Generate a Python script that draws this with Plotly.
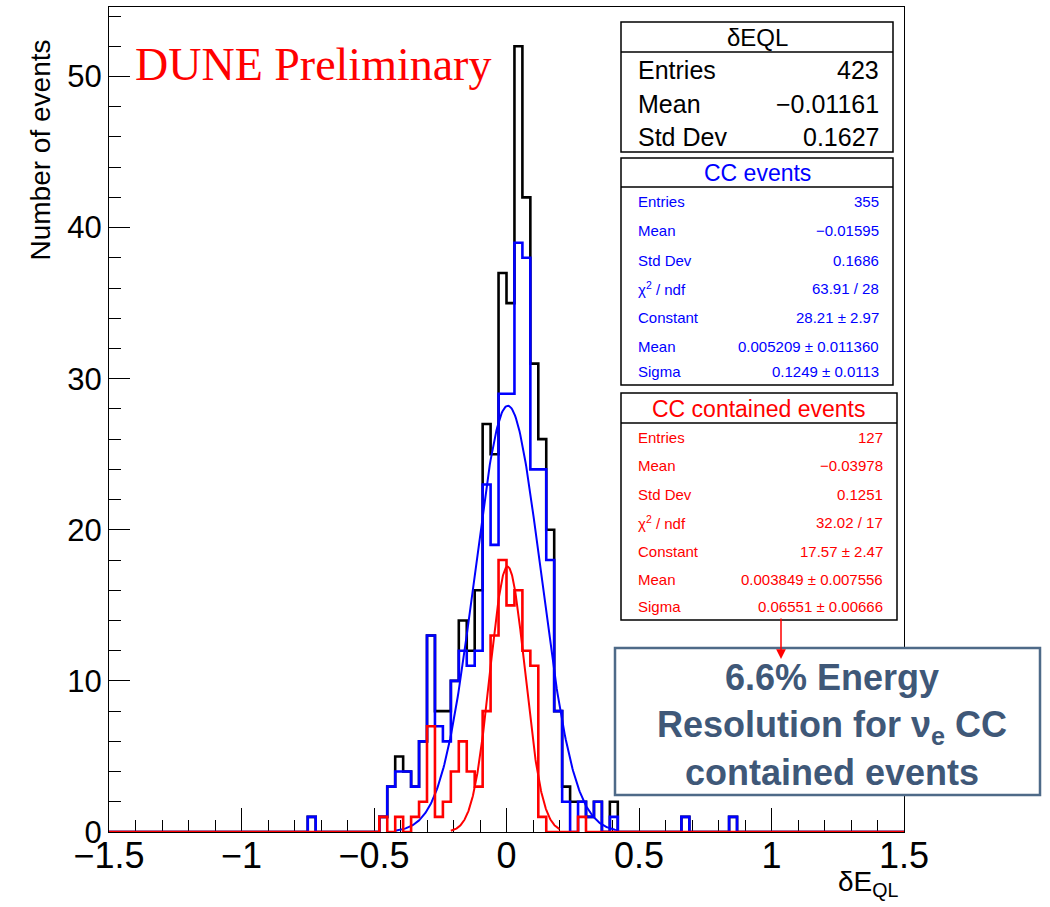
import numpy as np
import plotly.graph_objects as go

# ---- histogram binning: 100 bins of width 0.03 on [-1.5, 1.5]
X_MIN, X_MAX, N_BINS = -1.5, 1.5, 100
Y_MAX = 54.6

# ---- bin contents (lower bin edge -> entries), only non-empty bins listed
all_lo = [-0.75, -0.48, -0.45, -0.42, -0.39, -0.36, -0.33, -0.30, -0.27, -0.24,
          -0.21, -0.18, -0.15, -0.12, -0.09, -0.06, -0.03, 0.00, 0.03, 0.06,
          0.09, 0.12, 0.15, 0.18, 0.21, 0.24, 0.27, 0.30, 0.33, 0.39, 0.66, 0.84]
all_n = [1, 1, 3, 5, 4, 3, 6, 13, 8, 8,
         10, 14, 12, 16, 27, 25, 37, 35, 52, 42,
         31, 26, 20, 8, 3, 2, 2, 1, 2, 2, 1, 1]

cc_lo = [-0.75, -0.48, -0.45, -0.42, -0.39, -0.36, -0.33, -0.30, -0.27, -0.24,
         -0.21, -0.18, -0.15, -0.12, -0.09, -0.06, -0.03, 0.00, 0.03, 0.06,
         0.09, 0.12, 0.15, 0.18, 0.21, 0.27, 0.30, 0.33, 0.39, 0.66, 0.84]
cc_n = [1, 1, 3, 4, 4, 3, 6, 13, 7, 6,
        10, 12, 11, 12, 23, 19, 29, 29, 39, 38,
        24, 24, 18, 8, 2, 2, 1, 2, 1, 1, 1]

cont_lo = [-0.48, -0.42, -0.36, -0.33, -0.30, -0.27, -0.24, -0.21, -0.18, -0.15,
           -0.12, -0.09, -0.06, -0.03, 0.00, 0.03, 0.06, 0.09, 0.12, 0.27]
cont_n = [1, 1, 1, 2, 7, 1, 2, 4, 6, 4,
          3, 8, 13, 18, 15, 16, 12, 11, 1, 1]

# ---- Gaussian fit results (constant, mean, sigma, fit range)
cc_fit = dict(const=28.21, mean=0.005209, sigma=0.1249, lo=-0.42, hi=0.42)
cont_fit = dict(const=17.57, mean=0.003849, sigma=0.06551, lo=-0.21, hi=0.20)

# ---- statistics box texts
box_all = dict(title="δEQL", rows=[("Entries", "423"), ("Mean", "−0.01161"), ("Std Dev", "0.1627")])
box_cc = dict(title="CC events", rows=[("Entries", "355"), ("Mean", "−0.01595"), ("Std Dev", "0.1686"),
                                        ("χ<sup>2</sup> / ndf", "63.91 / 28"), ("Constant", "28.21 ± 2.97"),
                                        ("Mean", "0.005209 ± 0.011360"), ("Sigma", "0.1249 ± 0.0113")])
box_cont = dict(title="CC contained events", rows=[("Entries", "127"), ("Mean", "−0.03978"), ("Std Dev", "0.1251"),
                                                    ("χ<sup>2</sup> / ndf", "32.02 / 17"), ("Constant", "17.57 ± 2.47"),
                                                    ("Mean", "0.003849 ± 0.007556"), ("Sigma", "0.06551 ± 0.00666")])

edges = X_MIN + (X_MAX - X_MIN) / N_BINS * np.arange(N_BINS + 1)
bw = (X_MAX - X_MIN) / N_BINS


def fill_bins(lo, n):
    c = np.zeros(N_BINS)
    for x, v in zip(lo, n):
        c[int(round((x - X_MIN) / bw))] = v
    return c


def step_xy(counts):
    xs = [edges[0]] + list(edges[:-1]) + [edges[-1]]
    ys = [0] + list(counts) + [0]
    return xs, ys


def gauss(p, npts=300):
    x = np.linspace(p["lo"], p["hi"], npts)
    return x, p["const"] * np.exp(-0.5 * ((x - p["mean"]) / p["sigma"]) ** 2)


FW, FH = 1050, 907
L, R, T, B = 109, 904, 7, 832  # plot frame in pixels


def px(x):
    return (x - L) / (R - L)


def py(y):
    return (B - y) / (B - T)


fig = go.Figure()

for lo, n, col in [(all_lo, all_n, "black"), (cc_lo, cc_n, "#0000ff")]:
    xs, ys = step_xy(fill_bins(lo, n))
    fig.add_trace(go.Scatter(x=xs, y=ys, mode="lines", line=dict(color=col, width=2.6, shape="hv"),
                             hoverinfo="skip", showlegend=False, cliponaxis=False))

gx, gy = gauss(cc_fit)
fig.add_trace(go.Scatter(x=gx, y=gy, mode="lines", line=dict(color="#0000ff", width=2),
                         hoverinfo="skip", showlegend=False))

xs, ys = step_xy(fill_bins(cont_lo, cont_n))
fig.add_trace(go.Scatter(x=xs, y=ys, mode="lines", line=dict(color="#ff0000", width=2.6, shape="hv"),
                         hoverinfo="skip", showlegend=False, cliponaxis=False))
gx, gy = gauss(cont_fit)
fig.add_trace(go.Scatter(x=gx, y=gy, mode="lines", line=dict(color="#ff0000", width=2),
                         hoverinfo="skip", showlegend=False))

shapes = []
annotations = []
SANS = "Liberation Sans, Arial, sans-serif"


def stats_box(box, x0, x1, y0, y1, ysep, ytitle, yrows, color, tsize, rsize, pad=15, rpad=12):
    shapes.append(dict(type="rect", xref="paper", yref="paper", x0=px(x0), x1=px(x1), y0=py(y1), y1=py(y0),
                       line=dict(color="black", width=1.5), fillcolor="white", layer="above"))
    shapes.append(dict(type="line", xref="paper", yref="paper", x0=px(x0), x1=px(x1), y0=py(ysep), y1=py(ysep),
                       line=dict(color="black", width=1.5), layer="above"))
    annotations.append(dict(xref="paper", yref="paper", x=px((x0 + x1) / 2), y=py(ytitle), text=box["title"],
                            showarrow=False, xanchor="center", yanchor="middle",
                            font=dict(family=SANS, size=tsize, color=color)))
    for (lab, val), yy in zip(box["rows"], yrows):
        annotations.append(dict(xref="paper", yref="paper", x=px(x0 + pad), y=py(yy), text=lab, showarrow=False,
                                xanchor="left", yanchor="middle", font=dict(family=SANS, size=rsize, color=color)))
        annotations.append(dict(xref="paper", yref="paper", x=px(x1 - rpad), y=py(yy), text=val, showarrow=False,
                                xanchor="right", yanchor="middle", font=dict(family=SANS, size=rsize, color=color)))


stats_box(box_all, 621, 893, 22, 152, 52, 37, [70, 104, 137], "black", 24, 25)
stats_box(box_cc, 621, 893, 158, 385, 187, 173, [202, 231, 260, 288, 317, 346, 372], "#0000ff", 23, 15)
stats_box(box_cont, 621, 897, 393, 620, 423, 409, [437, 465, 494, 522, 551, 579, 606], "#ff0000", 23, 15)

# "DUNE Preliminary" label
annotations.append(dict(xref="paper", yref="paper", x=px(133), y=py(64), text="DUNE Preliminary", showarrow=False,
                        xanchor="left", yanchor="middle",
                        font=dict(family="Liberation Serif, Times New Roman, serif", size=46, color="#ff0000")))

# Axis titles
annotations.append(dict(xref="paper", yref="paper", x=px(40), y=py(38), text="Number of events", showarrow=False,
                        textangle=-90, xanchor="center", yanchor="top", font=dict(family=SANS, size=28, color="black")))
annotations.append(dict(xref="paper", yref="paper", x=px(901), y=py(883), text="δE<sub>QL</sub>", showarrow=False,
                        xanchor="right", yanchor="middle", font=dict(family=SANS, size=28, color="black")))

# Resolution call-out box with arrow
shapes.append(dict(type="rect", xref="paper", yref="paper", x0=px(615), x1=px(1040), y0=py(795), y1=py(648),
                   line=dict(color="#4e6a88", width=2.5), fillcolor="white", layer="above"))
NOTE_COLOR = "#3f5878"
for txt, yy in [("6.6% Energy", 677), ("Resolution for ν<sub>e</sub> CC", 727), ("contained events", 772)]:
    annotations.append(dict(xref="paper", yref="paper", x=px(832), y=py(yy), text="<b>" + txt + "</b>",
                            showarrow=False, xanchor="center", yanchor="middle",
                            font=dict(family=SANS, size=36, color=NOTE_COLOR)))
annotations.append(dict(xref="paper", yref="paper", x=px(781), y=py(659), ax=0, ay=-42, text="", showarrow=True,
                        arrowcolor="#ff0000", arrowwidth=1.5, arrowhead=2, arrowsize=1.3))

axis_common = dict(showline=True, linecolor="black", linewidth=1.2, mirror=True, ticks="inside",
                   tickcolor="black", tickwidth=1.2, showgrid=False, zeroline=False, layer="below traces")

fig.update_layout(
    width=FW, height=FH,
    margin=dict(l=L, r=FW - R, t=T, b=FH - B, pad=0),
    paper_bgcolor="white", plot_bgcolor="white",
    xaxis=dict(range=[X_MIN, X_MAX], tick0=-1.5, dtick=0.5, ticklen=24, ticklabelstandoff=-8,
               minor=dict(dtick=0.1, ticklen=12, ticks="inside", tickcolor="black", tickwidth=1.2),
               tickfont=dict(family=SANS, size=36, color="black"),
               **axis_common),
    yaxis=dict(range=[0, Y_MAX], tick0=0, dtick=10, ticklen=21,
               minor=dict(dtick=2, ticklen=12, ticks="inside", tickcolor="black", tickwidth=1.2),
               tickfont=dict(family=SANS, size=31, color="black"),
               **axis_common),
    shapes=shapes,
    annotations=annotations,
)

fig.write_html("out.html")
